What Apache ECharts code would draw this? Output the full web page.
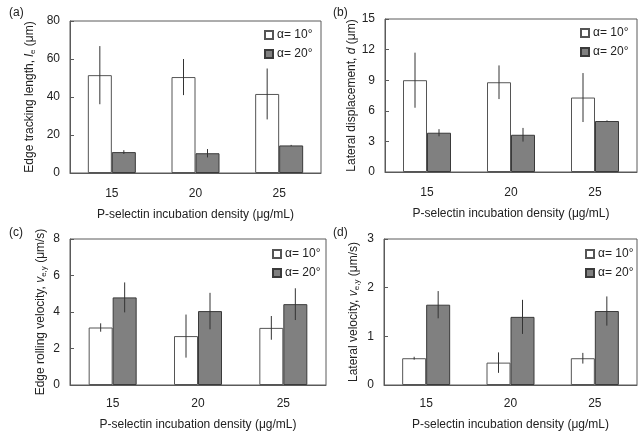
<!DOCTYPE html>
<html>
<head>
<meta charset="utf-8">
<script src="https://cdn.jsdelivr.net/npm/echarts@6/dist/echarts.min.js"></script>
<style>
  html, body { margin: 0; padding: 0; background: #fff; }
  #chart { width: 644px; height: 432px; }
</style>
</head>
<body>
<div id="chart"></div>
<script>
const densities = ['15', '20', '25'];

// (a) edge tracking length
const lenA10 = [51.5, 50.5, 41.6];
const lenA10Err = [15.3, 9.5, 13.4];
const lenA20 = [11.0, 10.4, 14.5];
const lenA20Err = [1.0, 2.2, 0.3];

// (b) lateral displacement
const dispA10 = [9.0, 8.8, 7.3];
const dispA10Err = [2.7, 1.65, 2.4];
const dispA20 = [3.85, 3.65, 5.0];
const dispA20Err = [0.35, 0.67, 0.06];

// (c) edge rolling velocity
const velA10 = [3.15, 2.68, 3.13];
const velA10Err = [0.23, 1.18, 0.65];
const velA20 = [4.8, 4.05, 4.43];
const velA20Err = [0.82, 1.0, 0.87];

// (d) lateral velocity
const latA10 = [0.55, 0.46, 0.55];
const latA10Err = [0.03, 0.21, 0.11];
const latA20 = [1.65, 1.40, 1.52];
const latA20Err = [0.28, 0.35, 0.30];

const yMax = [80, 15, 8, 3];
const yStep = [20, 3, 2, 1];

const font = 'Arial, "Liberation Sans", sans-serif';
const txt = '#222';
const frame = '#5a5a5a';
const barW = 24;

const chart = echarts.init(document.getElementById('chart'));

const grids = [
  { left: 70, top: 21, width: 251, height: 152 },
  { left: 385, top: 19, width: 252, height: 153 },
  { left: 70, top: 239, width: 256, height: 152 },
  { left: 384, top: 239, width: 253, height: 151 }
];

const yNames = [
  'Edge tracking length, {i|l}{s|e} (μm)',
  'Lateral displacement, {i|d} (μm)',
  'Edge rolling velocity, {i|v}{s|e,y} (μm/s)',
  'Lateral velocity, {i|v}{s|e,y} (μm/s)'
];
const yGaps = [33, 25, 22, 23];

const richName = {
  i: { fontStyle: 'italic', fontSize: 12, color: txt, fontFamily: font },
  s: { fontSize: 8, color: txt, fontFamily: font, verticalAlign: 'bottom', padding: [6, 0, 0, 0] }
};

function errBars(gi, vals, errs, side) {
  return {
    type: 'custom',
    xAxisIndex: gi,
    yAxisIndex: gi,
    z: 5,
    silent: true,
    data: vals.map((v, i) => [i, v - errs[i], v + errs[i]]),
    renderItem: function (params, api) {
      const lo = api.coord([api.value(0), api.value(1)]);
      const hi = api.coord([api.value(0), api.value(2)]);
      const x = lo[0] + side * barW / 2;
      return {
        type: 'line',
        shape: { x1: x, y1: lo[1], x2: x, y2: hi[1] },
        style: { stroke: '#333', lineWidth: 1 }
      };
    }
  };
}

function bars(gi, name, vals, fill, border) {
  return {
    type: 'bar',
    name: name,
    xAxisIndex: gi,
    yAxisIndex: gi,
    data: vals,
    barWidth: barW,
    barGap: '0%',
    itemStyle: { color: fill, borderColor: border, borderWidth: 1 },
    emphasis: { disabled: true }
  };
}

const sets = [
  [lenA10, lenA10Err, lenA20, lenA20Err],
  [dispA10, dispA10Err, dispA20, dispA20Err],
  [velA10, velA10Err, velA20, velA20Err],
  [latA10, latA10Err, latA20, latA20Err]
];

const series = [];
sets.forEach((s, gi) => {
  series.push(bars(gi, 'α= 10°', s[0], '#ffffff', '#555'));
  series.push(bars(gi, 'α= 20°', s[2], '#808080', '#3a3a3a'));
  series.push(errBars(gi, s[0], s[1], -1));
  series.push(errBars(gi, s[2], s[3], 1));
});

const legendPos = [
  { left: 259, top: 24 },
  { left: 575, top: 22 },
  { left: 267, top: 243 },
  { left: 580, top: 243 }
];

const panelLabels = ['(a)', '(b)', '(c)', '(d)'];
const panelPos = [[4, 2], [328, 2], [4, 222], [328, 222]];

chart.setOption({
  animation: false,
  backgroundColor: '#fff',
  textStyle: { fontFamily: font },
  title: panelLabels.map((t, i) => ({
    text: t,
    left: panelPos[i][0],
    top: panelPos[i][1],
    textStyle: { fontSize: 12, fontWeight: 'normal', color: txt, fontFamily: font }
  })),
  legend: legendPos.map(p => ({
    left: p.left,
    top: p.top,
    orient: 'vertical',
    data: ['α= 10°', 'α= 20°'],
    itemWidth: 8,
    itemHeight: 8,
    itemGap: 7,
    icon: 'rect',
    selectedMode: false,
    textStyle: { fontSize: 12, color: txt, fontFamily: font, padding: [0, 0, 0, -1] }
  })),
  grid: grids.map(g => Object.assign({ show: true, borderColor: frame, borderWidth: 1, backgroundColor: 'transparent' }, g)),
  xAxis: grids.map((g, i) => ({
    type: 'category',
    gridIndex: i,
    data: densities,
    name: 'P-selectin incubation density (μg/mL)',
    nameLocation: 'middle',
    nameGap: i < 2 ? 36 : 34,
    nameTextStyle: { fontSize: 12, color: txt, fontFamily: font },
    axisLine: { lineStyle: { color: frame } },
    axisTick: { show: false },
    axisLabel: { fontSize: 12, color: txt, margin: i < 2 ? 15 : 13 },
    splitLine: { show: false }
  })),
  yAxis: grids.map((g, i) => ({
    type: 'value',
    gridIndex: i,
    min: 0,
    max: yMax[i],
    interval: yStep[i],
    name: yNames[i],
    nameLocation: 'middle',
    nameRotate: 90,
    nameGap: yGaps[i],
    nameTextStyle: { fontSize: 12, color: txt, fontFamily: font, rich: richName },
    axisLine: { show: true, lineStyle: { color: frame } },
    axisTick: { show: true, inside: true, length: 4, lineStyle: { color: frame } },
    axisLabel: { fontSize: 12, color: txt, margin: 10 },
    splitLine: { show: false }
  })),
  series: series
});
</script>
</body>
</html>
